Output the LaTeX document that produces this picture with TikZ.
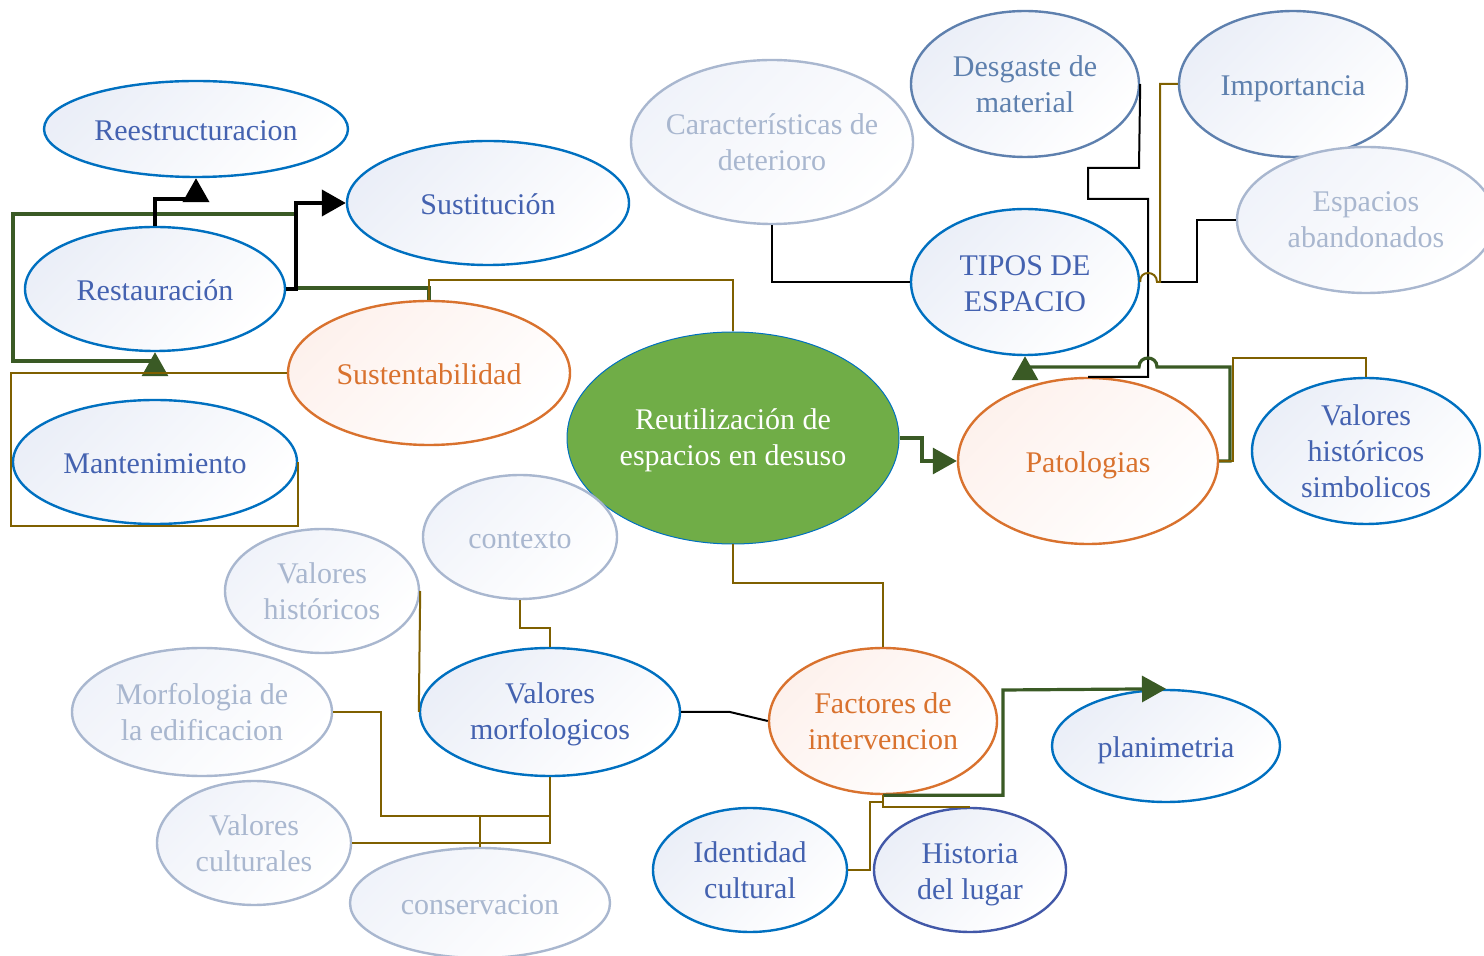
\documentclass[tikz,border=0pt]{standalone}
\usepackage{fontspec}
\setmainfont{Liberation Serif}
\usetikzlibrary{shapes.geometric,arrows.meta}

\definecolor{edgeblue}{HTML}{0070C0}
\definecolor{txtblue}{HTML}{4462B0}
\definecolor{fillblue}{HTML}{E4E9F5}
\definecolor{edgeorange}{HTML}{D9722E}
\definecolor{fillorange}{HTML}{FCE6DE}
\definecolor{pale}{HTML}{A9B7CF}
\definecolor{steel}{HTML}{5E80AE}
\definecolor{indigo}{HTML}{4258A8}
\definecolor{leaf}{HTML}{70AD47}
\definecolor{linkgreen}{HTML}{3A5A25}
\definecolor{linkolive}{HTML}{7F6000}

\tikzset{
  oval/.style={ellipse, inner xsep=-20pt, inner ysep=-10pt, align=center,
    font=\fontsize{15}{18}\selectfont, line width=1.2pt},
  % fixed height and depth for one-line labels
  oneline/.style={execute at begin node={\rule{0pt}{15pt}},
    execute at end node={\rule[-3.3pt]{0pt}{3.3pt}}},
  % taller box for multi-line labels that sit a little low
  topstrut/.style={execute at begin node={\rule{0pt}{#1pt}}},
  sz/.style 2 args={minimum width=#1pt, minimum height=#2pt},
  bluenode/.style={oval, draw=edgeblue, text=txtblue,
    top color=fillblue!75!white, bottom color=white, shading angle=45},
  orangenode/.style={oval, draw=edgeorange, text=edgeorange,
    top color=fillorange!55!white, bottom color=white, shading angle=45},
  palenode/.style={oval, draw=pale, text=pale,
    top color=fillblue!55!white, bottom color=white, shading angle=45},
  steelnode/.style={oval, draw=steel, text=steel,
    top color=fillblue!75!white, bottom color=white, shading angle=45},
  corenode/.style={oval, draw=edgeblue, line width=0.5pt, fill=leaf, text=white},
  blkbold/.style={draw=black, line width=2pt},
  blk/.style={draw=black, line width=1pt},
  olv/.style={draw=linkolive, line width=1pt},
  grn/.style={draw=linkgreen, line width=1.6pt},
  tip/.style={-{Triangle[length=12pt,width=13pt]}},
}

\begin{document}
\begin{tikzpicture}[x=0.5pt,y=-0.5pt]
\useasboundingbox (0,0) rectangle (1484,956);

% concepts
\node[bluenode, oneline, sz={152}{48}] (reest) at (196,129) {Reestructuracion};
\node[bluenode, oneline, sz={141}{62}] (sust) at (488,203) {Sustitución};
\node[bluenode, oneline, sz={130}{62}] (rest) at (155,289) {Restauración};
\node[orangenode, oneline, sz={141}{72}] (sustent) at (429,373) {Sustentabilidad};
\node[bluenode, oneline, sz={142}{62}] (mant) at (155,462) {Mantenimiento};
\node[corenode, topstrut=31, sz={166}{106}] (reut) at (733,438) {Reutilización de\\espacios en desuso};
\node[palenode, sz={141}{82}] (caract) at (772,142) {Características de\\deterioro};
\node[steelnode, sz={114}{73}] (desg) at (1025,84) {Desgaste de\\material};
\node[steelnode, oneline, sz={114}{73}] (imp) at (1293,84) {Importancia};
\node[palenode, sz={129}{73}] (esp) at (1366,220) {Espacios\\abandonados};
\node[bluenode, topstrut=29.9, sz={114}{73}] (tipos) at (1025,282) {TIPOS DE\\ESPACIO};
\node[orangenode, oneline, sz={130}{83}] (pat) at (1088,461) {Patologias};
\node[bluenode, sz={114}{73}] (vhs) at (1366,451) {Valores\\históricos\\simbolicos};
\node[palenode, oneline, sz={97}{62}] (ctx) at (520,537) {contexto};
\node[palenode, sz={97}{62}] (vh) at (322,591) {Valores\\históricos};
\node[palenode, sz={130}{64}] (morf) at (202,712) {Morfologia de\\la edificacion};
\node[bluenode, topstrut=31.2, sz={130}{64}] (vm) at (550,712) {Valores\\morfologicos};
\node[orangenode, sz={114}{73}] (fact) at (883,721) {Factores de\\intervencion};
\node[bluenode, oneline, sz={114}{56}] (plan) at (1166,746) {planimetria};
\node[palenode, sz={97}{62}] (vc) at (254,843) {Valores\\culturales};
\node[palenode, oneline, sz={130}{55}] (cons) at (480,903) {conservacion};
\node[bluenode, sz={97}{62}] (ident) at (750,870) {Identidad\\cultural};
\node[bluenode, draw=indigo, topstrut=33.2, sz={96}{62}] (hist) at (970,870) {Historia\\del lugar};

% left group
\draw[grn, tip] (sustent.north) -- (429,288) -- (296,288) -- (296,214)
  -- (13,214) -- (13,361) -| (rest.south);
\draw[blkbold, tip] (rest.north) -- (155,199) -| (reest.south);
\draw[blkbold, tip] (rest.east) -- (296,289) |- (sust.west);
\draw[olv] (sustent.north) -- (429,280) -| (reut.north);
\draw[olv] (sustent.west) -- (11,373) -- (11,526) -| (mant.east);

% right group
\draw[grn, tip] (reut.east) -- (922,438) |- (pat.west);
\draw[blk] (caract.south) |- (tipos.west);
\draw[blk] (desg.east) -- (1139,168) -| (1088,199) -- (1148,199) |- (pat.north);
\draw[blk] (esp.west) -| (1197,282) -- (1160,282);
\draw[olv] (imp.west) -| (1160,282) -- (1157,282)
  .. controls (1157,270) and (1139,270) .. (tipos.east);
\draw[grn, tip] (pat.east) -- (1230,461) -- (1230,367) -- (1157,367)
  .. controls (1157,355) and (1139,355) .. (1139,367) -| (tipos.south);
\draw[olv] (pat.east) -- (1233,461) -- (1233,358) -| (vhs.north);

% lower group
\draw[olv] (reut.south) -- (733,583) -| (fact.north);
\draw[blk] (vm.east) -- (730,712) -- (fact.west);
\draw[olv] (ctx.south) -- (520,628) -| (vm.north);
\draw[olv] (vh.east) -- (vm.west);
\draw[olv] (morf.east) -| (381,816) -| (vm.south);
\draw[olv] (vc.east) -| (vm.south);
\draw[olv] (cons.north) -- (480,816);
\draw[grn, tip] (fact.south) -| (1003,690) -- (plan.north);
\draw[olv] (fact.south) |- (hist.north);
\draw[olv] (fact.south) -- (883,802) -- (870,802) |- (ident.east);
\end{tikzpicture}
\end{document}
